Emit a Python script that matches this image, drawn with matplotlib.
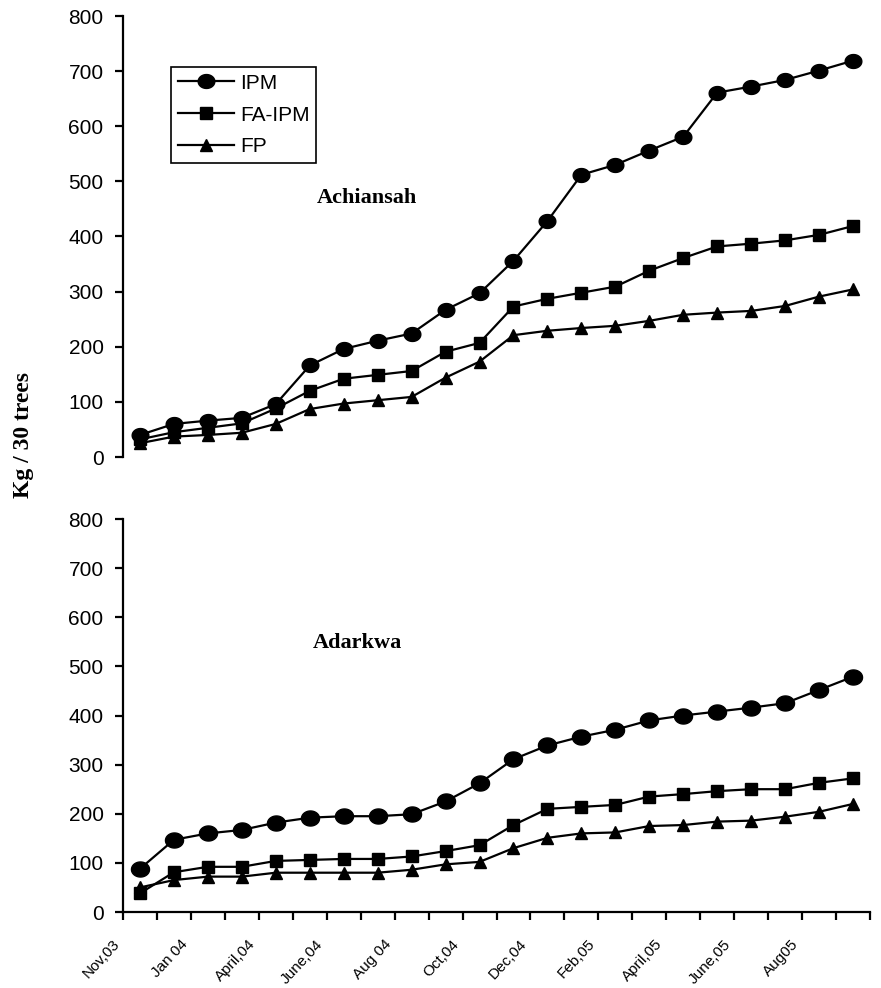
import numpy as np
import matplotlib
matplotlib.use("Agg")
import matplotlib.pyplot as plt
from matplotlib.path import Path
from matplotlib.transforms import ScaledTranslation

# ---------------- data ----------------
months = ["Nov,03", "Jan 04", "April,04", "June,04", "Aug 04", "Oct,04",
          "Dec,04", "Feb,05", "April,05", "June,05", "Aug05"]
n_points = 22

ipm_ach = [40, 60, 66, 71, 96, 166, 196, 211, 224, 267, 297,
           356, 428, 512, 530, 556, 581, 661, 672, 684, 701, 719]
fa_ach = [32, 45, 53, 61, 88, 120, 142, 149, 156, 191, 207,
          273, 287, 298, 309, 338, 361, 382, 387, 393, 403, 419]
fp_ach = [25, 37, 40, 44, 60, 87, 97, 103, 109, 144, 173,
          221, 229, 234, 238, 247, 258, 262, 265, 274, 291, 304]

ipm_ada = [88, 147, 160, 167, 182, 192, 195, 195, 199, 225, 262,
           311, 339, 357, 371, 390, 400, 408, 416, 425, 452, 479]
fa_ada = [38, 81, 92, 92, 104, 106, 108, 108, 113, 124, 136,
          177, 210, 214, 218, 235, 240, 246, 250, 250, 263, 272]
fp_ada = [50, 65, 72, 72, 80, 80, 80, 80, 86, 97, 102,
          130, 151, 160, 162, 175, 177, 184, 186, 194, 204, 220]

x = np.arange(n_points)

# slightly wide ellipse, like the stretched circles of the original
t = np.linspace(0, 2 * np.pi, 64)
ellipse = Path(np.column_stack([1.2 * np.cos(t), np.sin(t)]), closed=True)

plt.rcParams['font.family'] = ['Liberation Sans', 'DejaVu Sans']

W, H = 881, 988
fig = plt.figure(figsize=(W / 100, H / 100), dpi=100)

def px_axes(left, top, right, bottom):
    return fig.add_axes([left / W, 1 - bottom / H, (right - left) / W, (bottom - top) / H])

ax1 = px_axes(123, 16, 870, 457)
ax2 = px_axes(123, 519, 870, 912)

style = dict(color='black', lw=1.6)
ax1.plot(x, ipm_ach, marker=ellipse, ms=12, label='IPM', **style)
ax1.plot(x, fa_ach, marker='s', ms=8, label='FA-IPM', **style)
ax1.plot(x, fp_ach, marker='^', ms=9, label='FP', **style)

ax2.plot(x, ipm_ada, marker=ellipse, ms=13, **style)
ax2.plot(x, fa_ada, marker='s', ms=8, **style)
ax2.plot(x, fp_ada, marker='^', ms=9, **style)

for ax in (ax1, ax2):
    ax.set_xlim(-0.5, n_points - 0.5)
    ax.set_ylim(0, 800)
    ax.set_yticks(range(0, 801, 100))
    ax.spines['top'].set_visible(False)
    ax.spines['right'].set_visible(False)
    ax.spines['left'].set_linewidth(1.6)
    ax.spines['bottom'].set_linewidth(1.6)
    ax.tick_params(axis='y', direction='out', length=6, width=1.6,
                   pad=8, labelsize=15)

# top panel: no x axis
ax1.spines['bottom'].set_visible(False)
ax1.tick_params(axis='x', bottom=False, labelbottom=False)

# bottom panel: ticks between categories, labels every 2nd month
ax2.set_xticks(np.arange(-0.5, n_points, 1))
ax2.set_xticklabels([])
ax2.tick_params(axis='x', which='major', direction='out', length=6, width=1.6)
ax2.set_xticks(x[::2], months, minor=True)
ax2.tick_params(axis='x', which='minor', length=0, pad=18, labelsize=11)
for lbl in ax2.get_xticklabels(minor=True):
    lbl.set_rotation(47)
    lbl.set_ha('right')
    lbl.set_va('top')
    lbl.set_rotation_mode('anchor')
    lbl.set_transform(lbl.get_transform() + ScaledTranslation(-0.28, 0, fig.dpi_scale_trans))

fig.text(367 / W, 1 - 198 / H, 'Achiansah', ha='center', va='center',
         fontsize=16, fontweight='bold', family='Liberation Serif')
fig.text(357 / W, 1 - 643 / H, 'Adarkwa', ha='center', va='center',
         fontsize=16, fontweight='bold', family='Liberation Serif')
fig.text(24 / W, 1 - 435 / H, 'Kg / 30 trees', rotation=90, ha='center', va='center',
         fontsize=17, fontweight='bold', family='Liberation Serif')

leg = ax1.legend(loc='upper left', bbox_to_anchor=(171 / W, 1 - 67 / H),
                 bbox_transform=fig.transFigure, borderaxespad=0,
                 fancybox=False, frameon=True, edgecolor='black', framealpha=1,
                 fontsize=15, handlelength=2.7, handletextpad=0.3,
                 labelspacing=0.62, borderpad=0.32)
leg.get_frame().set_linewidth(1.2)

fig.savefig('out.png', dpi=100)
